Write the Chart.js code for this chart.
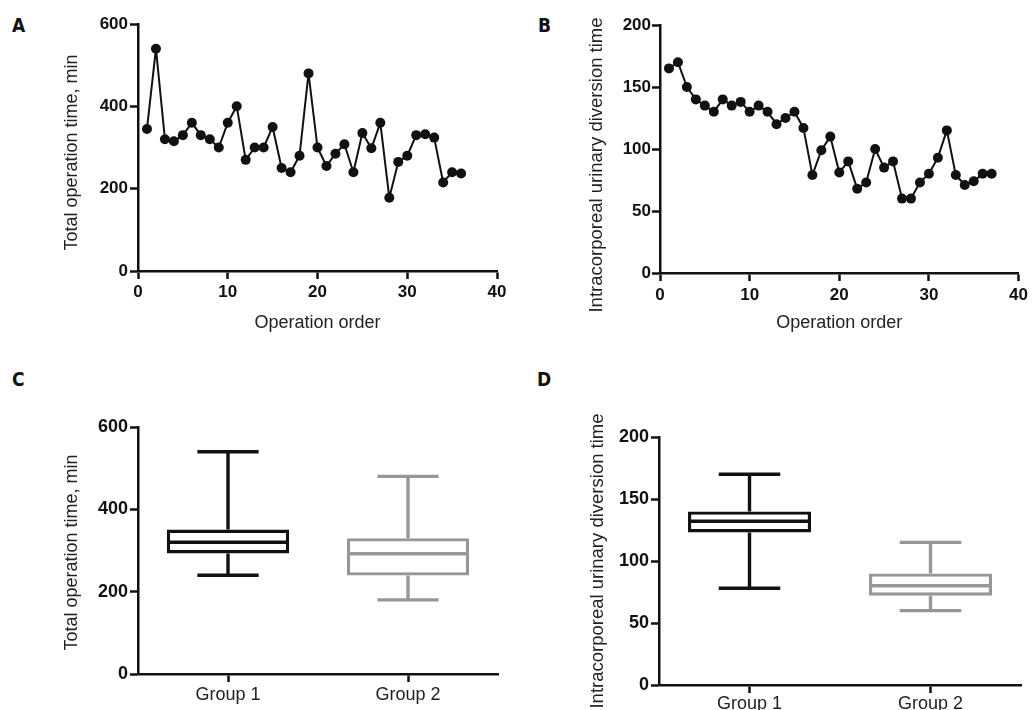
<!DOCTYPE html>
<html>
<head>
<meta charset="utf-8">
<script src="https://cdn.jsdelivr.net/npm/chart.js@4.4.1/dist/chart.umd.min.js"></script>
<style>
  body { margin: 0; background: #fff; width: 1032px; height: 710px; position: relative; overflow: hidden; }
  canvas { position: absolute; }
  .tag { position: absolute; font: bold 19px/19px "Liberation Sans Narrow", "DejaVu Sans Condensed", sans-serif; color: #111; }
</style>
</head>
<body>
<div class="tag" style="left:12px;top:16px">A</div>
<div class="tag" style="left:538px;top:16px">B</div>
<div class="tag" style="left:12px;top:370px">C</div>
<div class="tag" style="left:537px;top:370px">D</div>
<canvas id="chartA" width="516" height="337" style="left:0;top:0"></canvas>
<canvas id="chartB" width="516" height="336" style="left:516px;top:0"></canvas>
<canvas id="chartC" width="516" height="350" style="left:0;top:360px"></canvas>
<canvas id="chartD" width="516" height="350" style="left:516px;top:360px"></canvas>
<script>
// panel A - total operation time by operation order
const orderA = [1, 2, 3, 4, 5, 6, 7, 8, 9, 10, 11, 12, 13, 14, 15, 16, 17, 18, 19, 20, 21, 22, 23, 24, 25, 26, 27, 28, 29, 30, 31, 32, 33, 34, 35, 36]
const opTime = [345, 540, 320, 315, 330, 360, 330, 320, 300, 360, 400, 270, 300, 300, 350, 250, 240, 280, 480, 300, 255, 285, 308, 240, 335, 298, 360, 178, 265, 280, 330, 332, 324, 215, 240, 237]

// panel B - intracorporeal urinary diversion time by operation order
const orderB = [1, 2, 3, 4, 5, 6, 7, 8, 9, 10, 11, 12, 13, 14, 15, 16, 17, 18, 19, 20, 21, 22, 23, 24, 25, 26, 27, 28, 29, 30, 31, 32, 33, 34, 35, 36, 37]
const udTime = [165, 170, 150, 140, 135, 130, 140, 135, 138, 130, 135, 130, 120, 125, 130, 117, 79, 99, 110, 81, 90, 68, 73, 100, 85, 90, 60, 60, 73, 80, 93, 115, 79, 71, 74, 80, 80]

// panels C / D - box plots per group
const groups = ['Group 1', 'Group 2']
const opMin = [240, 180]
const opQ1 = [293, 239]
const opMedian = [320, 292]
const opQ3 = [351, 330]
const opMax = [540, 480]

const udMin = [78, 60]
const udQ1 = [123, 72]
const udMedian = [132, 80]
const udQ3 = [140, 90]
const udMax = [170, 115]

const groupColors = ['#111111', '#979797']

const opTicks = [0, 200, 400, 600]
const udTicks = [0, 50, 100, 150, 200]
const orderTicks = [0, 10, 20, 30, 40]

Chart.defaults.font.family = '"Liberation Sans", Arial, sans-serif'
Chart.defaults.color = '#111'

const sideTitle = {
  id: 'sideTitle',
  afterDraw(chart, args, opts) {
    const { ctx, chartArea } = chart
    ctx.save()
    ctx.translate(opts.x, (chartArea.top + chartArea.bottom) / 2 + opts.dy)
    ctx.rotate(-Math.PI / 2)
    ctx.font = opts.size + 'px "Liberation Sans", Arial, sans-serif'
    ctx.fillStyle = '#222'
    ctx.textAlign = 'center'
    ctx.textBaseline = 'middle'
    ctx.fillText(opts.text, 0, 0)
    ctx.restore()
  }
}

const whiskers = {
  id: 'whiskers',
  afterDatasetsDraw(chart, args, opts) {
    const { ctx, scales: { y } } = chart
    const meta = chart.getDatasetMeta(0)
    ctx.save()
    ctx.lineWidth = 3.4
    opts.median.forEach((m, i) => {
      const bar = meta.data[i]
      const cx = bar.x
      const half = bar.width / 2
      const yMed = y.getPixelForValue(m)
      const yQ1 = y.getPixelForValue(opts.q1[i])
      const yQ3 = y.getPixelForValue(opts.q3[i])
      const yMin = y.getPixelForValue(opts.min[i])
      const yMax = y.getPixelForValue(opts.max[i])
      ctx.strokeStyle = opts.colors[i]
      ctx.beginPath()
      ctx.moveTo(cx - half + 2, yMed); ctx.lineTo(cx + half - 2, yMed)
      ctx.moveTo(cx, yQ3); ctx.lineTo(cx, yMax)
      ctx.moveTo(cx - half / 2, yMax); ctx.lineTo(cx + half / 2, yMax)
      ctx.moveTo(cx, yQ1); ctx.lineTo(cx, yMin)
      ctx.moveTo(cx - half / 2, yMin); ctx.lineTo(cx + half / 2, yMin)
      ctx.stroke()
    })
    ctx.restore()
  }
}

const axis = (size, pad, fixed) => ({
  border: { display: true, color: '#111', width: 2.5 },
  grid: { drawOnChartArea: false, drawTicks: true, tickLength: 8, tickWidth: 2.5, tickColor: '#111' },
  ticks: { font: { size: size, weight: 'bold' }, color: '#111', padding: pad },
  afterFit: fixed
})

const lineChart = (id, order, values, yTicks, geo) => {
  const xAxis = axis(17, geo.xPad, s => { s.height = geo.xHeight })
  xAxis.type = 'linear'
  xAxis.min = orderTicks[0]
  xAxis.max = orderTicks[orderTicks.length - 1]
  xAxis.ticks.stepSize = 10
  xAxis.title = { display: true, text: 'Operation order', font: { size: 18 }, color: '#222', padding: { top: 0, bottom: geo.titlePad } }
  const yAxis = axis(17, geo.yPad, s => { s.width = geo.left })
  yAxis.min = yTicks[0]
  yAxis.max = yTicks[yTicks.length - 1]
  yAxis.ticks.stepSize = yTicks[1] - yTicks[0]

  return new Chart(document.getElementById(id), {
    type: 'line',
    data: {
      datasets: [{
        data: order.map((o, i) => ({ x: o, y: values[i] })),
        borderColor: '#111',
        borderWidth: 2,
        borderJoinStyle: 'round',
        pointRadius: 5,
        pointBackgroundColor: '#111',
        pointBorderWidth: 0,
        tension: 0
      }]
    },
    options: {
      responsive: false,
      animation: false,
      layout: { padding: { top: geo.top, right: geo.right, left: 0, bottom: 0 } },
      plugins: { legend: { display: false }, tooltip: { enabled: false }, sideTitle: geo.yTitle },
      scales: { x: xAxis, y: yAxis }
    },
    plugins: [sideTitle]
  })
}

const boxChart = (id, stats, yTicks, geo) => {
  const xAxis = axis(18, geo.xPad, s => { s.height = geo.xHeight })
  xAxis.ticks.font = { size: 18 }
  xAxis.ticks.color = '#222'
  xAxis.grid.offset = false
  const yAxis = axis(18, 2, s => { s.width = geo.left })
  yAxis.min = yTicks[0]
  yAxis.max = yTicks[yTicks.length - 1]
  yAxis.ticks.stepSize = yTicks[1] - yTicks[0]

  return new Chart(document.getElementById(id), {
    type: 'bar',
    data: {
      labels: groups,
      datasets: [{
        data: stats.q1.map((q, i) => [q, stats.q3[i]]),
        backgroundColor: '#fff',
        borderColor: groupColors,
        borderWidth: 3.4,
        borderSkipped: false,
        categoryPercentage: 1,
        barPercentage: 0.68
      }]
    },
    options: {
      responsive: false,
      animation: false,
      layout: { padding: { top: geo.top, right: geo.right, left: 0, bottom: 0 } },
      plugins: {
        legend: { display: false },
        tooltip: { enabled: false },
        sideTitle: geo.yTitle,
        whiskers: { ...stats, colors: groupColors }
      },
      scales: { x: xAxis, y: yAxis }
    },
    plugins: [sideTitle, whiskers]
  })
}

lineChart('chartA', orderA, opTime, opTicks, {
  left: 138, top: 24, right: 19, xHeight: 66, xPad: 3, yPad: 2, titlePad: 3,
  yTitle: { text: 'Total operation time, min', x: 72, dy: 5, size: 18 }
})

lineChart('chartB', orderB, udTime, udTicks, {
  left: 144, top: 25, right: 12, xHeight: 63, xPad: 4, yPad: 1, titlePad: 2,
  yTitle: { text: 'Intracorporeal urinary diversion time', x: 81, dy: 16, size: 18.5 }
})

boxChart('chartC', { min: opMin, q1: opQ1, median: opMedian, q3: opQ3, max: opMax }, opTicks, {
  left: 138, top: 67, right: 18, xHeight: 36, xPad: 2,
  yTitle: { text: 'Total operation time, min', x: 72, dy: 2, size: 18 }
})

boxChart('chartD', { min: udMin, q1: udQ1, median: udMedian, q3: udQ3, max: udMax }, udTicks, {
  left: 143, top: 77, right: 11, xHeight: 25, xPad: 0,
  yTitle: { text: 'Intracorporeal urinary diversion time', x: 82, dy: 0, size: 18.5 }
})
</script>
</body>
</html>
